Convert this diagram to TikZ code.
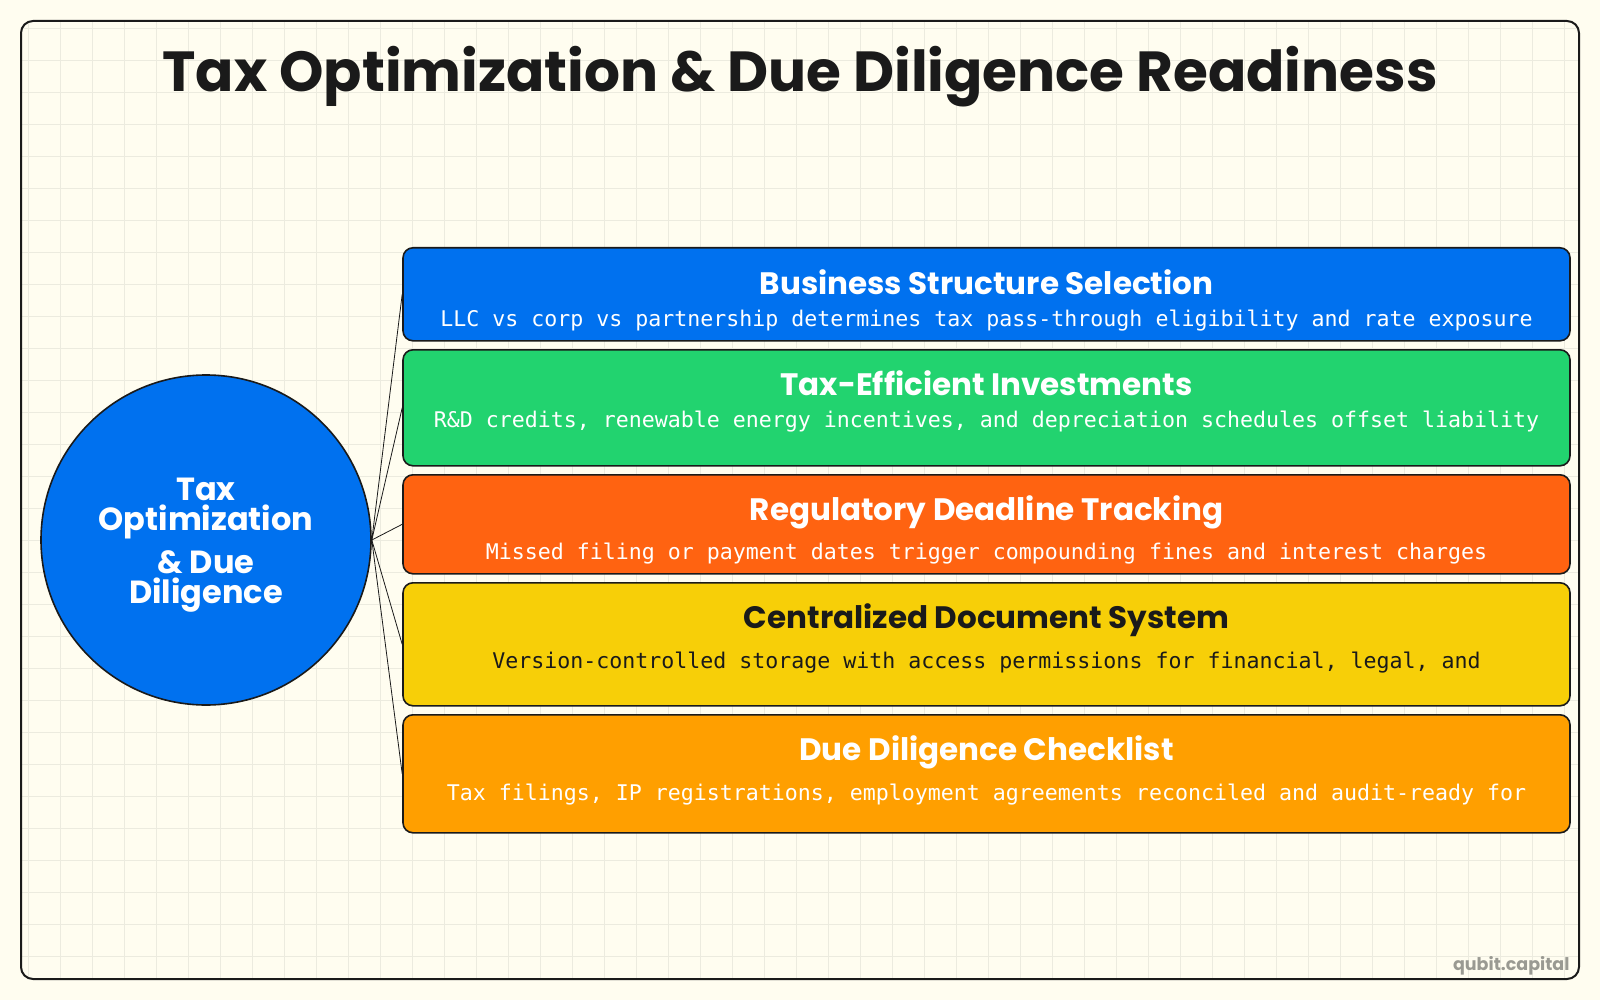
\documentclass[tikz,border=0pt]{standalone}
\usepackage{fontspec}
\setmainfont{Poppins}
\newfontfamily\codefont{DejaVu Sans Mono}
\usepackage{tikz}
\usetikzlibrary{positioning}
\definecolor{paper}{HTML}{FFFDF0}
\definecolor{gridcol}{HTML}{ECEBDF}
\definecolor{ink}{HTML}{1A1A1A}
\definecolor{cblue}{HTML}{0071EF}
\definecolor{cgreen}{HTML}{22D36F}
\definecolor{cred}{HTML}{FF6311}
\definecolor{cyellow}{HTML}{F7CF08}
\definecolor{corange}{HTML}{FF9F00}
\definecolor{mark}{HTML}{9A9A92}
\tikzstyle{gridline} = [draw=gridcol, line width=0.8pt]
\tikzstyle{frame} = [draw=ink, line width=2pt, rounded corners=12pt]
\tikzstyle{title} = [anchor=base, font=\fontsize{56.5}{56}\selectfont\bfseries, text=ink]
\tikzstyle{hub} = [circle, draw=ink, line width=1.6pt, fill=cblue, minimum size=330pt, inner sep=0pt]
\tikzstyle{hubtext} = [align=center, text=white, font=\fontsize{32}{30}\selectfont\bfseries]
\tikzstyle{card} = [draw=ink, line width=1.6pt, rounded corners=10pt, minimum width=1167pt, anchor=north, inner sep=0pt]
\tikzstyle{head} = [anchor=base, text=white, font=\fontsize{31}{31}\selectfont\bfseries]
\tikzstyle{desc} = [anchor=base, text=white, font=\fontsize{21.6}{22}\codefont]
\tikzstyle{link} = [draw=ink, line width=0.8pt]

\begin{document}
\begin{tikzpicture}[x=1pt,y=-1pt]
    \useasboundingbox (0,0) rectangle (1600,1000);
    \fill[paper] (0,0) rectangle (1600,1000);
    % squared paper inside the frame
    \begin{scope}
        \clip[rounded corners=12pt] (21,21) rectangle (1579,979);
        \foreach \gx in {28.5,60.5,...,1579} \draw[gridline] (\gx,21) -- (\gx,979);
        \foreach \gy in {28,60,...,979} \draw[gridline] (21,\gy) -- (1579,\gy);
    \end{scope}
    \draw[frame] (21,21) rectangle (1579,979);

    \node[title] (title) at (800,92) {Tax Optimization \& Due Diligence Readiness};

    % hub
    \node[hub] (hub) at (206,540) {};
    \node[hubtext] (hublabel) at (206,545) {Tax\\Optimization\\[10pt]\& Due\\Diligence};

    % cards
    \node[card, fill=cblue, minimum height=93pt] (structure) at (986.5,247) {};
    \node[card, fill=cgreen, minimum height=116pt] (invest) at (986.5,349) {};
    \node[card, fill=cred, minimum height=99pt] (deadline) at (986.5,474) {};
    \node[card, fill=cyellow, minimum height=123pt] (docs) at (986.5,582) {};
    \node[card, fill=corange, minimum height=118pt] (checklist) at (986.5,714) {};

    \node[head] (structurehead) at (986.5,294.5) {Business Structure Selection};
    \node[desc] (structuredesc) at (986.5,326.7) {LLC vs corp vs partnership determines tax pass-through eligibility and rate exposure};
    \node[head] (investhead) at (986.5,395.5) {Tax-Efficient Investments};
    \node[desc] (investdesc) at (986.5,427.7) {R\&D credits, renewable energy incentives, and depreciation schedules offset liability};
    \node[head] (deadlinehead) at (986.5,520.5) {Regulatory Deadline Tracking};
    \node[desc] (deadlinedesc) at (986.5,559.7) {Missed filing or payment dates trigger compounding fines and interest charges};
    \node[head, text=ink] (docshead) at (986.5,628.5) {Centralized Document System};
    \node[desc, text=ink] (docsdesc) at (986.5,668) {Version-controlled storage with access permissions for financial, legal, and};
    \node[head] (checklisthead) at (986.5,760.5) {Due Diligence Checklist};
    \node[desc] (checklistdesc) at (986.5,800.5) {Tax filings, IP registrations, employment agreements reconciled and audit-ready for};

    % connectors
    \draw[link] (hub.east) -- (structure.west);
    \draw[link] (hub.east) -- (invest.west);
    \draw[link] (hub.east) -- (deadline.west);
    \draw[link] (hub.east) -- (docs.west);
    \draw[link] (hub.east) -- (checklist.west);

    \node[anchor=base east, text=mark, font=\fontsize{17.5}{17}\selectfont\bfseries] (brand) at (1573,970.7) {qubit.capital};
\end{tikzpicture}
\end{document}
